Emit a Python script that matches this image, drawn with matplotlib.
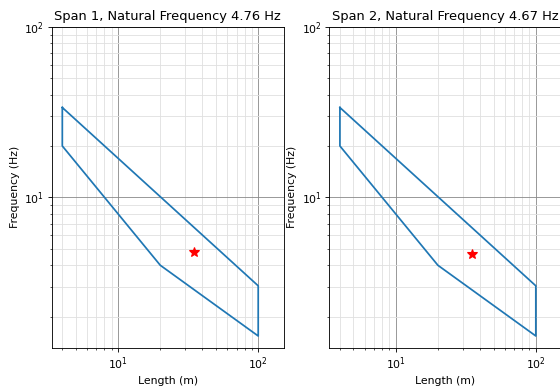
import matplotlib
matplotlib.use("Agg")
import matplotlib.pyplot as plt

# Limits envelope (length in m, frequency in Hz), closed polygon
ENVELOPE_LENGTH = [4, 4, 20, 100, 100, 4]
ENVELOPE_FREQ = [33.6, 20.0, 4.0, 1.54, 3.03, 33.6]

SPAN_NAMES = ["Span 1", "Span 2"]
SPAN_LENGTH = [35, 35]
SPAN_FREQ = [4.76, 4.67]

W, H = 560, 386
DPI = 78
fig = plt.figure(figsize=(W / DPI, H / DPI), dpi=DPI)

# axes boxes in pixels: left, right
boxes = [(51.7, 283.7), (329.3, 561.3)]
top, bottom = 26.7, 347.7

for (x0, x1), name, L, f in zip(boxes, SPAN_NAMES, SPAN_LENGTH, SPAN_FREQ):
    ax = fig.add_axes([x0 / W, (H - bottom) / H, (x1 - x0) / W, (bottom - top) / H])
    ax.plot(ENVELOPE_LENGTH, ENVELOPE_FREQ, color="#1f77b4", lw=1.6)
    ax.plot(L, f, marker="*", color="red", markersize=10, ls="none")
    ax.set_xscale("log")
    ax.set_yscale("log")
    ax.set_xlim(3.36, 152)
    ax.set_ylim(1.315, 100)
    ax.grid(True, which="major", color="#8c8c8c", lw=0.8)
    ax.grid(True, which="minor", color="#e0e0e0", lw=0.8)
    ax.set_axisbelow(True)
    ax.set_title(f"{name}, Natural Frequency {f:.2f} Hz", fontsize=12)
    ax.set_xlabel("Length (m)")
    ax.set_ylabel("Frequency (Hz)")

fig.savefig("out.png", dpi=DPI)
